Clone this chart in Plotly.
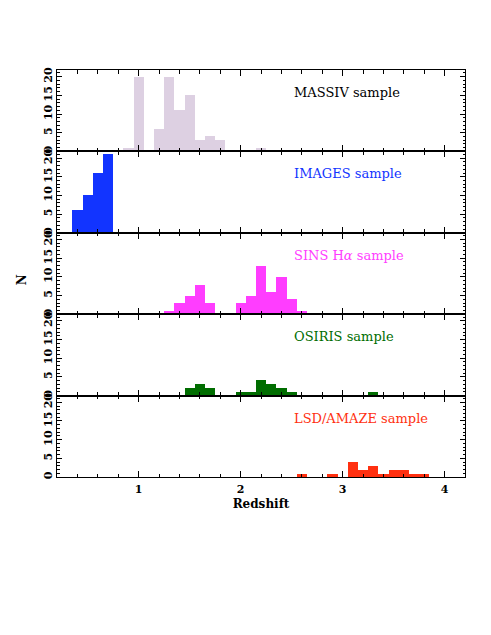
import plotly.graph_objects as go
from plotly.subplots import make_subplots

# Data (bin centers, counts), bin width 0.1
massiv_z = [0.9, 1.0, 1.2, 1.3, 1.4, 1.5, 1.6, 1.7, 1.8, 2.2]
massiv_n = [1, 20, 6, 20, 11, 15, 3, 4, 3, 1]

images_z = [0.4, 0.5, 0.6, 0.7]
images_n = [6, 10, 16, 21]

sins_z = [1.3, 1.4, 1.5, 1.6, 1.7, 2.0, 2.1, 2.2, 2.3, 2.4, 2.5, 2.6]
sins_n = [1, 3, 5, 8, 3, 3, 5, 13, 6, 10, 4, 1]

osiris_z = [1.5, 1.6, 1.7, 2.0, 2.1, 2.2, 2.3, 2.4, 2.5, 3.3]
osiris_n = [2, 3, 2, 1, 1, 4, 3, 2, 1, 1]

lsd_z = [2.6, 2.9, 3.1, 3.2, 3.3, 3.4, 3.5, 3.6, 3.7, 3.8]
lsd_n = [1, 1, 4, 2, 3, 1, 2, 2, 1, 1]

y_ticks = [0, 5, 10, 15, 20]
x_ticks = [1, 2, 3, 4]

samples = [
    ("MASSIV sample", massiv_z, massiv_n, "#ddd0e2", "#000000"),
    ("IMAGES sample", images_z, images_n, "#1234ff", "#1234ff"),
    ("SINS H<i>α</i> sample", sins_z, sins_n, "#ff3dff", "#ff3dff"),
    ("OSIRIS sample", osiris_z, osiris_n, "#006d00", "#006d00"),
    ("LSD/AMAZE sample", lsd_z, lsd_n, "#ff3010", "#ff3010"),
]

fig = make_subplots(rows=5, cols=1, shared_xaxes=True, vertical_spacing=0)

font_family = "DejaVu Serif"

for i, (name, z, n, col, tcol) in enumerate(samples, start=1):
    fig.add_trace(go.Bar(x=z, y=n, width=0.1, marker=dict(color=col, line=dict(width=0)),
                         showlegend=False), row=i, col=1)
    fig.add_annotation(text=name, x=2.5, y=15.8, xref=f"x{'' if i == 1 else i}",
                       yref=f"y{'' if i == 1 else i}", xanchor="left", yanchor="middle",
                       showarrow=False, font=dict(family=font_family, size=13, color=tcol))
    fig.update_yaxes(row=i, col=1, range=[0, 21.8], tickvals=y_ticks,
                     ticktext=[f"<b>{v}</b>" for v in y_ticks],
                     ticks="inside", ticklen=5, tickwidth=1, tickcolor="black",
                     minor=dict(dtick=1, ticks="inside", ticklen=2.5, tickcolor="black", showgrid=False),
                     showline=True, linecolor="black", linewidth=1, mirror="ticks",
                     showgrid=False, zeroline=False, tickangle=-90, automargin=False,
                     tickfont=dict(family=font_family, size=11, color="black"))
    fig.update_xaxes(row=i, col=1, range=[0.2, 4.2], tickvals=x_ticks,
                     ticktext=[f"<b>{v}</b>" for v in x_ticks],
                     ticks="inside", ticklen=6, tickwidth=1, tickcolor="black",
                     minor=dict(dtick=0.2, tick0=0, ticks="inside", ticklen=3.5, tickcolor="black", showgrid=False),
                     showline=True, linecolor="black", linewidth=1, mirror="ticks",
                     showgrid=False, zeroline=False, automargin=False, ticklabelstandoff=2,
                     tickfont=dict(family=font_family, size=11, color="black"))

fig.update_xaxes(row=5, col=1, showticklabels=True,
                 title=dict(text="<b>Redshift</b>", standoff=4,
                            font=dict(family=font_family, size=12, color="black")))

fig.add_annotation(text="<b>N</b>", x=-0.085, y=0.484, xref="paper", yref="paper",
                   xanchor="center", yanchor="middle",
                   showarrow=False, textangle=-90,
                   font=dict(family=font_family, size=12, color="black"))

fig.update_layout(width=491, height=635, margin=dict(l=49, r=34, t=62, b=166),
                  paper_bgcolor="white", plot_bgcolor="white", bargap=0,
                  font=dict(family=font_family))

fig.write_html("out.html")
